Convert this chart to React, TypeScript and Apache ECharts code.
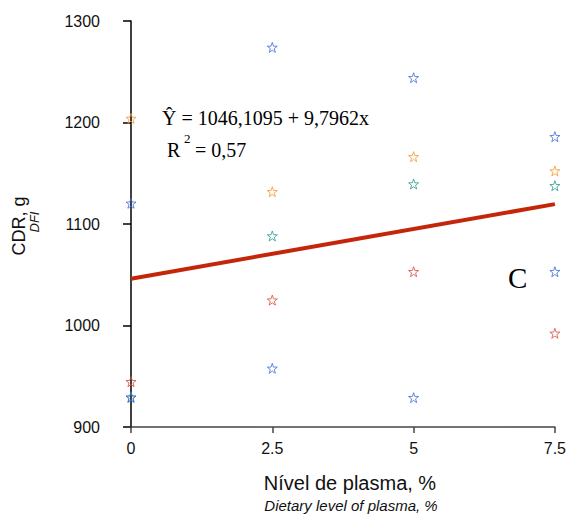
import React, { useEffect, useRef } from "react";
import * as echarts from "echarts";

const xLevels = [0, 2.5, 5, 7.5];
const xTickLabels = ["0", "2.5", "5", "7.5"];
const yTickLabels = ["900", "1000", "1100", "1200", "1300"];
const yLevels = [900, 1000, 1100, 1200, 1300];
const blueHigh = [1120.4, 1274, 1244.1, 1186];
const blueLow = [929.3, 957.8, 928.9, 1053];
const orange = [1204, 1131.8, 1166.3, 1152.2];
const teal = [929.3, 1088.2, 1139.4, 1137.7];
const red = [944.6, 1025, 1053, 992.3];
const fitX = [0, 7.5];
const fitY = [1046.1, 1119.6];

const STAR =
  "path://M0,-10 L2.35,-3.24 L9.51,-3.09 L3.8,1.24 L5.88,8.09 L0,4 L-5.88,8.09 L-3.8,1.24 L-9.51,-3.09 L-2.35,-3.24 Z";

const pts = (ys: number[]) => xLevels.map((x, i) => [x, ys[i]]);

const starSeries = (name: string, ys: number[], color: string) => ({
  name,
  type: "scatter",
  data: pts(ys),
  symbol: STAR,
  symbolSize: 10,
  itemStyle: { color: "rgba(0,0,0,0)", borderColor: color, borderWidth: 1 },
  z: 3,
});

export default function App() {
  const ref = useRef<HTMLDivElement>(null);
  useEffect(() => {
    const chart = echarts.init(ref.current!, null, { renderer: "svg" });
    chart.setOption({
      animation: false,
      backgroundColor: "#fff",
      grid: { left: 131, right: 12, top: 21, bottom: 89, containLabel: false },
      xAxis: {
        type: "value",
        min: 0,
        max: 7.5,
        interval: 2.5,
        axisLine: { show: true, onZero: false, lineStyle: { color: "#444", width: 1.5 } },
        axisTick: { show: true, length: 6, lineStyle: { color: "#444", width: 1.5 } },
        splitLine: { show: false },
        axisLabel: {
          margin: 13,
          fontFamily: "Liberation Sans",
          fontSize: 16,
          color: "#111",
          formatter: (v: number) => xTickLabels[xLevels.indexOf(v)] ?? "",
        },
      },
      yAxis: {
        type: "value",
        min: 900,
        max: 1300,
        interval: 100,
        axisLine: { show: true, onZero: false, lineStyle: { color: "#000", width: 1.5 } },
        axisTick: { show: true, length: 8, lineStyle: { color: "#000", width: 1.5 } },
        splitLine: { show: false },
        axisLabel: {
          margin: 31,
          fontFamily: "Liberation Sans",
          fontSize: 16,
          color: "#111",
          formatter: (v: number) => yTickLabels[yLevels.indexOf(v)] ?? "",
        },
      },
      series: [
        {
          name: "fit",
          type: "line",
          data: fitX.map((x, i) => [x, fitY[i]]),
          symbol: "none",
          lineStyle: { color: "#c4260a", width: 4 },
          z: 2,
        },
        starSeries("orange", orange, "#f7962a"),
        starSeries("teal", teal, "#2b9a8e"),
        starSeries("red", red, "#d94b37"),
        starSeries("blueHigh", blueHigh, "#3d6bd8"),
        starSeries("blueLow", blueLow, "#3d6bd8"),
      ],
      graphic: [
        {
          type: "text",
          x: 162,
          y: 108,
          style: {
            text: "Ŷ = 1046,1095 + 9,7962x",
            font: "20px 'Liberation Serif'",
            fill: "#000",
            verticalAlign: "alphabetic",
          },
        },
        {
          type: "text",
          x: 167,
          y: 140,
          style: { text: "R", font: "20px 'Liberation Serif'", fill: "#000", verticalAlign: "alphabetic" },
        },
        {
          type: "text",
          x: 184,
          y: 132,
          style: { text: "2", font: "13px 'Liberation Serif'", fill: "#000", verticalAlign: "alphabetic" },
        },
        {
          type: "text",
          x: 195,
          y: 140,
          style: { text: "= 0,57", font: "20px 'Liberation Serif'", fill: "#000", verticalAlign: "alphabetic" },
        },
        {
          type: "text",
          x: 508,
          y: 263,
          style: { text: "C", font: "29px 'Liberation Serif'", fill: "#000", verticalAlign: "alphabetic" },
        },
        {
          type: "text",
          x: 19,
          y: 226,
          rotation: Math.PI / 2,
          style: {
            text: "CDR, g",
            font: "18px 'Liberation Sans'",
            fill: "#111",
            align: "center",
            verticalAlign: "middle",
          },
        },
        {
          type: "text",
          x: 34,
          y: 222,
          rotation: Math.PI / 2,
          style: {
            text: "DFI",
            font: "italic 13px 'Liberation Sans'",
            fill: "#111",
            align: "center",
            verticalAlign: "middle",
          },
        },
        {
          type: "text",
          x: 350,
          y: 483,
          style: {
            text: "Nível de plasma, %",
            font: "20px 'Liberation Sans'",
            fill: "#111",
            align: "center",
            verticalAlign: "middle",
          },
        },
        {
          type: "text",
          x: 351,
          y: 505,
          style: {
            text: "Dietary level of plasma, %",
            font: "italic 15px 'Liberation Sans'",
            fill: "#111",
            align: "center",
            verticalAlign: "middle",
          },
        },
      ],
    });
    return () => chart.dispose();
  }, []);
  return (
    <div
      ref={ref}
      style={{ position: "fixed", left: 0, top: 0, width: 569, height: 516 }}
    />
  );
}
